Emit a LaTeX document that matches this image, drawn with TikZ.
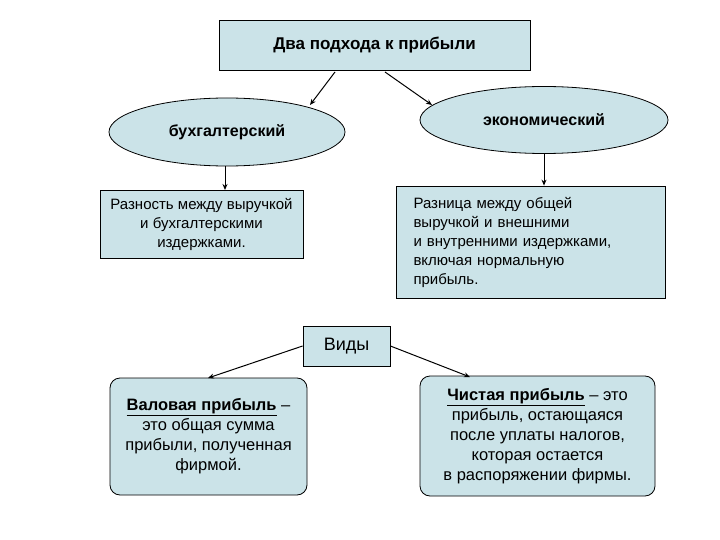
\documentclass[tikz,border=0pt]{standalone}
\usepackage{fontspec}
\setmainfont{Liberation Sans}
\usetikzlibrary{shapes.geometric,arrows.meta}
\definecolor{fillb}{RGB}{203,227,232}
\begin{document}
\begin{tikzpicture}[x=1pt,y=-1pt,
  box/.style={draw,fill=fillb,line width=0.8pt,inner sep=0pt},
  ell/.style={draw,fill=fillb,ellipse,line width=0.8pt,inner sep=0pt},
  arr/.style={-{Stealth[length=6pt,width=5pt]},line width=1pt}]
\useasboundingbox (0,0) rectangle (720,540);
\node[box,minimum width=311pt,minimum height=50pt,font=\bfseries\fontsize{17}{20}\selectfont] (t) at (374.5,45) {Два подхода к прибыли};
\node[ell,minimum width=236pt,minimum height=68pt,font=\bfseries\fontsize{16}{18}\selectfont] (l) at (227,132) {бухгалтерский};
\node[ell,minimum width=248pt,minimum height=67pt,font=\bfseries\fontsize{16}{18}\selectfont] (r) at (544,120) {экономический};
\node[box,minimum width=203pt,minimum height=68pt,align=center,font=\fontsize{15}{19}\selectfont] (lb) at (201.5,224) {Разность между выручкой\\и бухгалтерскими\\издержками.};
\node[box,minimum width=269pt,minimum height=112pt,text width=234pt,align=left,font=\fontsize{15}{19}\selectfont] (rb) at (530.5,242) {Разница между общей\\выручкой и внешними\\и внутренними издержками,\\включая нормальную\\прибыль.};
\node[box,minimum width=87pt,minimum height=40pt,font=\fontsize{18}{20}\selectfont] (v) at (346.5,346) {Виды};
\node[box,rounded corners=10pt,minimum width=197pt,minimum height=117pt,align=center,font=\fontsize{16.5}{20}\selectfont] (bl) at (208.5,436.5) {\underline{\textbf{Валовая прибыль}} --\\это общая сумма\\прибыли, полученная\\фирмой.};
\node[box,rounded corners=10pt,minimum width=235pt,minimum height=120pt,align=center,font=\fontsize{16.5}{20}\selectfont] (br) at (537.5,436) {\underline{\textbf{Чистая прибыль}} -- это\\прибыль, остающаяся\\после уплаты налогов,\\которая остается\\в распоряжении фирмы.};
\coordinate (t1) at (335,72); \coordinate (t2) at (385,72);
\coordinate (lbt) at (225,190);
\draw[arr] (t1) -- (310,105);
\draw[arr] (t2) -- (432,105);
\draw[arr] (l.south -| lbt) -- (lbt);
\draw[arr] (r.south) -- (r.south |- rb.north);
\draw[arr] (v.west) -- (208,378);
\draw[arr] (v.east) -- (470,377);
\end{tikzpicture}
\end{document}
